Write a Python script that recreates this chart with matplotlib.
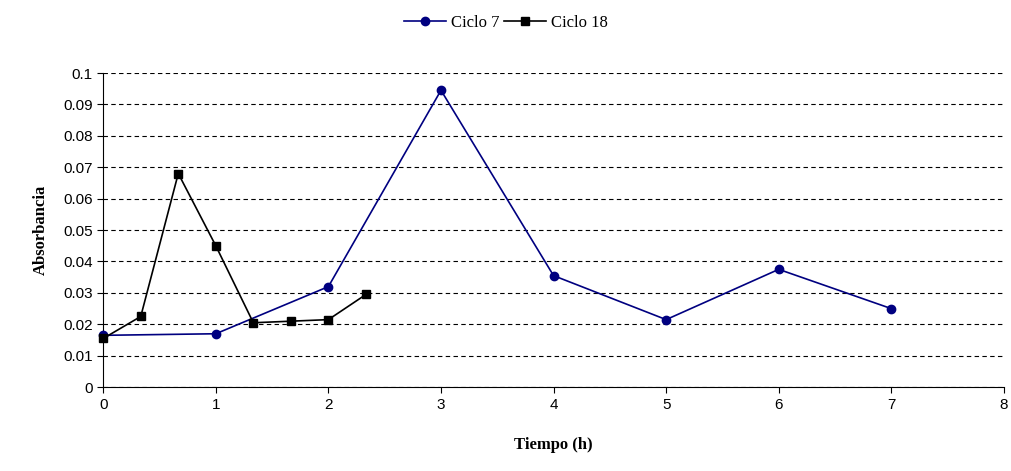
import matplotlib
matplotlib.use("Agg")
import matplotlib.pyplot as plt

x7 = [0, 1, 2, 3, 4, 5, 6, 7]
ciclo7 = [0.0165, 0.017, 0.032, 0.0945, 0.0355, 0.0215, 0.0375, 0.025]
x18 = [0, 1/3, 2/3, 1, 4/3, 5/3, 2, 7/3]
ciclo18 = [0.0155, 0.0225, 0.068, 0.045, 0.0205, 0.021, 0.0215, 0.0295]

fig = plt.figure(figsize=(10.12, 4.71), dpi=100)
ax = fig.add_axes([0.102, 0.178, 0.89, 0.667])
ax.plot(x7, ciclo7, color='#000080', marker='o', markersize=6, lw=1.2, label='Ciclo 7', clip_on=False, zorder=3)
ax.plot(x18, ciclo18, color='black', marker='s', markersize=6, lw=1.2, label='Ciclo 18', clip_on=False, zorder=3)

ax.set_xlim(0, 8)
ax.set_ylim(0, 0.1)
ax.set_xticks(range(9))
ax.set_yticks([i / 100 for i in range(11)])
ax.set_yticklabels(['0'] + ['%g' % (i / 100) for i in range(1, 11)])
ax.tick_params(labelsize=11, direction='out', length=4)
for lab in ax.get_xticklabels() + ax.get_yticklabels():
    lab.set_family('Liberation Sans')
ax.yaxis.grid(True, linestyle=(0, (4, 3)), color='black', lw=0.8)
ax.spines['top'].set_visible(False)
ax.spines['right'].set_visible(False)

ax.set_xlabel('Tiempo (h)', family='Liberation Serif', weight='bold', fontsize=12, labelpad=18)
ax.set_ylabel('Absorbancia', family='Liberation Serif', weight='bold', fontsize=12, labelpad=10)
fig.legend(loc='upper center', bbox_to_anchor=(0.5, 1.0), ncol=2, frameon=False,
           prop={'family': 'Liberation Serif', 'size': 12}, handlelength=2.5,
           handletextpad=0.3, columnspacing=0.3)

fig.savefig('out.png')
